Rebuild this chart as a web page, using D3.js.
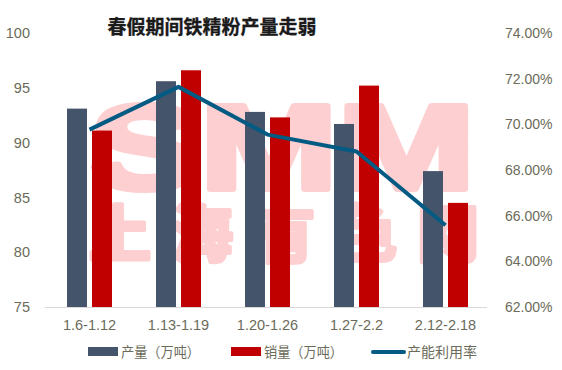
<!DOCTYPE html>
<html>
<head>
<meta charset="utf-8">
<script src="https://cdn.jsdelivr.net/npm/d3@7"></script>
<style>
  html, body { margin: 0; padding: 0; background: #fff; }
  svg { display: block; font-family: "Microsoft YaHei", "Noto Sans CJK SC", "Liberation Sans", sans-serif; }
</style>
</head>
<body>
<div id="chart"></div>
<script>
// 数据
const categories = ['1.6-1.12', '1.13-1.19', '1.20-1.26', '1.27-2.2', '2.12-2.18'];
const output = [93.1, 95.6, 92.8, 91.7, 87.4];      // 产量（万吨）
const sales = [91.1, 96.6, 92.3, 95.2, 84.5];       // 销量（万吨）
const utilRate = [69.77, 71.64, 69.55, 68.81, 65.58]; // 产能利用率 %
const leftTicks = [75, 80, 85, 90, 95, 100];
const rightTicks = [62, 64, 66, 68, 70, 72, 74];
const seriesNames = ['产量（万吨）', '销量（万吨）', '产能利用率'];

const width = 562, height = 370;
const plotL = 45, plotR = 490, plotT = 33, plotB = 307;
const labelColor = '#6b6b5a';

const svg = d3.select('#chart').append('svg')
    .attr('width', width)
    .attr('height', height);

// 坐标比例尺
const x = d3.scaleBand().domain(categories).range([plotL, plotR]);
const yL = d3.scaleLinear().domain([75, 100]).range([plotB, plotT]);
const yR = d3.scaleLinear().domain([62, 74]).range([plotB, plotT]);

// 水印
const wm = svg.append('g').attr('fill', '#fdcfd0').attr('stroke', '#fdcfd0').attr('stroke-linejoin', 'round');
wm.append('text')
    .attr('x', 90).attr('y', 189)
    .attr('textLength', 385).attr('lengthAdjust', 'spacingAndGlyphs')
    .attr('stroke-width', 6)
    .style('font-family', '"Liberation Sans", Arial, sans-serif')
    .style('font-weight', 'bold').style('font-size', '120px')
    .text('SMM');
wm.append('text')
    .attr('x', 89).attr('y', 257)
    .attr('textLength', 390).attr('lengthAdjust', 'spacing')
    .attr('stroke-width', 4)
    .style('font-family', '"Noto Sans CJK SC", sans-serif')
    .style('font-weight', 'bold').style('font-size', '62px')
    .text('上海有色网');

// 标题
svg.append('text')
    .attr('x', 212).attr('y', 34)
    .attr('text-anchor', 'middle')
    .style('font-family', '"Noto Sans CJK SC", sans-serif')
    .style('font-weight', 'bold').style('font-size', '19px')
    .attr('fill', '#1a1a1a')
    .attr('stroke', '#1a1a1a').attr('stroke-width', 0.3)
    .text('春假期间铁精粉产量走弱');

// 左轴
const axisL = svg.append('g')
    .attr('transform', `translate(${plotL},0)`)
    .call(d3.axisLeft(yL).tickValues(leftTicks).tickSize(0).tickPadding(15));
axisL.select('.domain').remove();
axisL.selectAll('text').attr('fill', labelColor).style('font-size', '14.5px');

// 右轴
const axisR = svg.append('g')
    .attr('transform', `translate(${plotR},0)`)
    .call(d3.axisRight(yR).tickValues(rightTicks).tickSize(0).tickPadding(15)
        .tickFormat(d => d.toFixed(2) + '%'));
axisR.select('.domain').remove();
axisR.selectAll('text').attr('fill', labelColor).style('font-size', '14px');

// X轴
const axisX = svg.append('g')
    .attr('transform', `translate(0,${plotB})`)
    .call(d3.axisBottom(x).tickSize(0).tickPadding(13));
axisX.select('.domain').attr('stroke', '#d9d9d9').attr('d', `M${plotL},0.5H${plotR - 3}`);
axisX.selectAll('text').attr('fill', labelColor).style('font-size', '14.5px');

// 柱子
const barW = 20;
svg.append('g').selectAll('rect')
    .data(output)
    .enter().append('rect')
    .attr('x', (d, i) => x(categories[i]) + x.bandwidth() / 2 - 22.5)
    .attr('y', d => yL(d))
    .attr('width', barW)
    .attr('height', d => yL(75) - yL(d))
    .attr('fill', '#44546a');

svg.append('g').selectAll('rect')
    .data(sales)
    .enter().append('rect')
    .attr('x', (d, i) => x(categories[i]) + x.bandwidth() / 2 + 2.5)
    .attr('y', d => yL(d))
    .attr('width', barW)
    .attr('height', d => yL(75) - yL(d))
    .attr('fill', '#c00000');

// 产能利用率折线
const line = d3.line()
    .x((d, i) => x(categories[i]) + x.bandwidth() / 2)
    .y(d => yR(d));
svg.append('path')
    .datum(utilRate)
    .attr('d', line)
    .attr('fill', 'none')
    .attr('stroke', '#035b84')
    .attr('stroke-width', 4)
    .attr('stroke-linejoin', 'round');

// 图例
const legend = svg.append('g').style('font-size', '14px').attr('fill', labelColor);
const ly = 352;
legend.append('rect').attr('x', 88).attr('y', ly - 5).attr('width', 30).attr('height', 9).attr('fill', '#44546a');
legend.append('text').attr('x', 121).attr('y', ly).attr('dy', '0.35em')
    .attr('textLength', 79).attr('lengthAdjust', 'spacingAndGlyphs').text(seriesNames[0]);
legend.append('rect').attr('x', 231).attr('y', ly - 5).attr('width', 30).attr('height', 9).attr('fill', '#c00000');
legend.append('text').attr('x', 264).attr('y', ly).attr('dy', '0.35em')
    .attr('textLength', 79).attr('lengthAdjust', 'spacingAndGlyphs').text(seriesNames[1]);
legend.append('line').attr('x1', 373).attr('x2', 404).attr('y1', ly).attr('y2', ly)
    .attr('stroke', '#035b84').attr('stroke-width', 4).attr('stroke-linecap', 'round');
legend.append('text').attr('x', 407).attr('y', ly).attr('dy', '0.35em').text(seriesNames[2]);
</script>
</body>
</html>
